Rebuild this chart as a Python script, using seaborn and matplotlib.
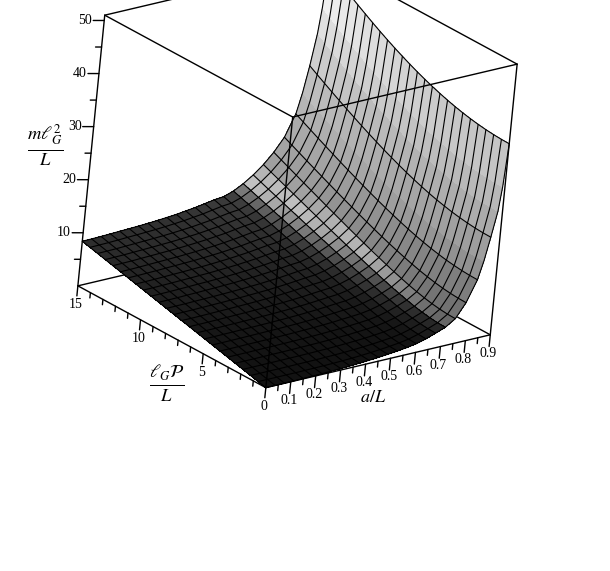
import numpy as np
import seaborn as sns
from matplotlib import pyplot as plt
from mpl_toolkits.mplot3d import proj3d

# a/L values of the mesh lines, and of three rows between them where the sheet bends hard
a_mesh = [round(0.0375 * i, 4) for i in range(25)]
a_extra = [0.84375, 0.88125, 0.890625]
a_grid = sorted(a_mesh + a_extra)
lp_grid = [0.625 * i for i in range(25)]

# surface heights, one row per value of a_grid
z_rows = [
    [0,.35,.7,1.05,1.4,1.75,2.1,2.45,2.8,3.15,3.5,3.85,4.2,4.55,4.9,5.25,5.6,5.95,6.3,6.65,7.0,7.35,7.7,8.05,8.4],
    [0,.35,.7,1.05,1.41,1.76,2.11,2.46,2.81,3.16,3.51,3.86,4.22,4.57,4.92,5.27,5.62,5.97,6.32,6.67,7.03,7.38,7.73,8.08,8.43],
    [.01,.35,.71,1.06,1.41,1.77,2.12,2.47,2.83,3.18,3.53,3.88,4.24,4.59,4.94,5.3,5.65,6.0,6.36,6.71,7.06,7.42,7.77,8.12,8.48],
    [.03,.36,.71,1.07,1.43,1.78,2.14,2.49,2.85,3.21,3.56,3.92,4.28,4.63,4.99,5.34,5.7,6.06,6.41,6.77,7.13,7.48,7.84,8.19,8.55],
    [.06,.36,.72,1.08,1.44,1.8,2.16,2.52,2.88,3.23,3.59,3.95,4.31,4.67,5.03,5.39,5.75,6.11,6.47,6.83,7.19,7.55,7.91,8.27,8.63],
    [.1,.38,.73,1.09,1.45,1.81,2.18,2.54,2.9,3.26,3.63,3.99,4.35,4.71,5.08,5.44,5.8,6.16,6.53,6.89,7.25,7.61,7.98,8.34,8.7],
    [.15,.4,.75,1.11,1.47,1.84,2.2,2.57,2.93,3.3,3.66,4.03,4.39,4.76,5.13,5.49,5.86,6.22,6.59,6.95,7.32,7.69,8.05,8.42,8.78],
    [.21,.43,.77,1.13,1.5,1.86,2.23,2.6,2.97,3.34,3.71,4.08,4.45,4.82,5.19,5.55,5.92,6.29,6.66,7.03,7.4,7.77,8.14,8.51,8.88],
    [.28,.47,.8,1.16,1.53,1.9,2.27,2.64,3.01,3.39,3.76,4.13,4.51,4.88,5.26,5.63,6.01,6.38,6.76,7.13,7.5,7.88,8.25,8.63,9.0],
    [.37,.53,.85,1.2,1.57,1.94,2.32,2.69,3.07,3.45,3.83,4.21,4.59,4.97,5.35,5.73,6.11,6.49,6.87,7.25,7.63,8.01,8.39,8.77,9.15],
    [.47,.61,.9,1.26,1.62,2.0,2.38,2.75,3.13,3.52,3.9,4.29,4.67,5.06,5.45,5.83,6.22,6.61,6.99,7.38,7.77,8.15,8.54,8.93,9.31],
    [.59,.71,.99,1.34,1.7,2.07,2.46,2.84,3.23,3.62,4.01,4.41,4.8,5.2,5.59,5.98,6.38,6.77,7.17,7.56,7.96,8.36,8.75,9.15,9.55],
    [.73,.84,1.1,1.43,1.77,2.15,2.54,2.94,3.33,3.73,4.12,4.54,4.93,5.33,5.73,6.14,6.54,6.94,7.35,7.76,8.15,8.56,8.96,9.37,9.78],
    [.9,.99,1.23,1.53,1.9,2.27,2.68,3.07,3.47,3.88,4.29,4.7,5.11,5.52,5.93,6.34,6.76,7.18,7.6,8.01,8.43,8.85,9.26,9.68,10.09],
    [1.1,1.18,1.41,1.69,2.02,2.4,2.8,3.21,3.62,4.03,4.45,4.87,5.29,5.71,6.14,6.56,6.99,7.41,7.84,8.26,8.69,9.12,9.55,9.98,10.4],
    [1.33,1.4,1.59,1.87,2.2,2.56,2.94,3.34,3.74,4.16,4.57,4.99,5.42,5.84,6.27,6.7,7.13,7.56,7.99,8.42,8.85,9.28,9.72,10.15,10.58],
    [1.65,1.71,1.89,2.16,2.48,2.84,3.23,3.64,4.05,4.48,4.91,5.35,5.79,6.23,6.69,7.13,7.58,8.03,8.49,8.94,9.4,9.85,10.31,10.77,11.22],
    [2.15,2.21,2.38,2.62,2.94,3.3,3.69,4.11,4.54,4.99,5.44,5.91,6.37,6.85,7.32,7.8,8.28,8.77,9.25,9.74,10.23,10.72,11.21,11.7,12.19],
    [2.8,2.85,3.0,3.25,3.55,3.91,4.31,4.74,5.2,5.66,6.15,6.64,7.13,7.64,8.16,8.66,9.19,9.71,10.24,10.76,11.29,11.83,12.35,12.89,13.43],
    [3.5,3.55,3.7,3.94,4.26,4.63,5.05,5.5,5.98,6.49,7.0,7.53,8.08,8.62,9.18,9.74,10.31,10.89,11.46,12.04,12.62,13.2,13.79,14.37,14.96],
    [4.7,4.75,4.89,5.12,5.42,5.79,6.2,6.67,7.16,7.68,8.23,8.79,9.36,9.96,10.55,11.17,11.78,12.4,13.03,13.66,14.29,14.94,15.58,16.22,16.87],
    [7.3,7.34,7.45,7.63,7.88,8.19,8.55,8.97,9.42,9.91,10.42,10.96,11.53,12.12,12.72,13.34,13.96,14.6,15.25,15.91,16.57,17.24,17.92,18.6,19.29],
    [11.2,11.23,11.33,11.49,11.7,11.98,12.31,12.68,13.1,13.56,14.06,14.59,15.15,15.73,16.34,16.97,17.62,18.28,18.96,19.65,20.36,21.07,21.8,22.53,23.27],
    [14.5,14.53,14.62,14.78,14.99,15.26,15.58,15.95,16.37,16.83,17.33,17.87,18.44,19.05,19.68,20.33,21.01,21.7,22.42,23.15,23.9,24.66,25.44,26.22,27.02],
    [18.8,18.83,18.92,19.08,19.29,19.55,19.88,20.25,20.67,21.15,21.66,22.21,22.8,23.43,24.08,24.77,25.48,26.22,26.98,27.76,28.56,29.38,30.21,31.06,31.92],
    [23.5,23.53,23.63,23.79,24.02,24.3,24.65,25.04,25.5,26.01,26.56,27.16,27.8,28.48,29.2,29.95,30.73,31.54,32.38,33.24,34.13,35.04,35.97,36.91,37.87],
    [28,28.03,28.13,28.29,28.51,28.79,29.13,29.52,29.97,30.48,31.03,31.63,32.27,32.96,33.69,34.44,35.24,36.07,36.93,37.81,38.73,39.66,40.62,41.6,42.6],
    [36,36.03,36.12,36.26,36.46,36.72,37.03,37.39,37.81,38.28,38.79,39.35,39.95,40.6,41.29,42.01,42.77,43.57,44.4,45.27,46.15,47.07,48.01,48.98,49.97],
]

a_ticks = [round(0.05 * i, 2) for i in range(1, 19)]
lp_ticks = list(range(16))
z_ticks = list(range(5, 51, 5))

A_MAX, LP_MAX, Z_MAX = 0.9, 15, 51

sns.set_style("white")
plt.rcParams['font.family'] = ['Liberation Serif', 'DejaVu Serif']
plt.rcParams['mathtext.fontset'] = 'stix'
plt.rcParams['text.color'] = 'black'

fig = plt.figure(figsize=(6.1, 5.71), dpi=100)
ax = fig.add_axes([40.75 / 610, 139.25 / 571, 500 / 610, 500 / 571], projection='3d', proj_type='ortho')
ax.set_box_aspect((1, 1, 1), zoom=0.9886)
ax.view_init(elev=22.3, azim=-132.1, roll=-5.67)
ax.set_xlim(0, A_MAX)
ax.set_ylim(0, LP_MAX)
ax.set_zlim(0, Z_MAX)
ax.set_axis_off()
ax.computed_zorder = False

X, Y = np.meshgrid(a_grid, lp_grid, indexing='ij')
Z = np.array(z_rows)

# grey from height and slope, plus a soft highlight where the slope catches the light
dz_da, dz_dl = np.gradient(Z, a_grid, lp_grid)
slope = np.hypot(dz_da * A_MAX / Z_MAX, dz_dl * LP_MAX / Z_MAX)
grey = (0.07 + 0.16 * (1 - np.exp(-(Z / 10) ** 2)) + 0.33 * (1 - np.exp(-(slope / 0.55) ** 4))
        + 0.5 * (Z / 50) ** 1.5 + 0.3 * np.exp(-((slope - 0.55) / 0.15) ** 2))
cmap = sns.color_palette("gray", as_cmap=True)
ax.plot_surface(X, Y, Z, rstride=1, cstride=1, facecolors=cmap(np.clip(grey, 0, 1)),
                shade=False, linewidth=0, antialiased=False, zorder=2)

# mesh lines only on the a_mesh rows, the extra rows just bend the lP lines
for i, value in enumerate(a_grid):
    if value in a_mesh:
        ax.plot(X[i], Y[i], Z[i], color='black', lw=0.8, zorder=2.5)
for j in range(len(lp_grid)):
    ax.plot(X[:, j], Y[:, j], Z[:, j], color='black', lw=0.8, zorder=2.5)


def box_line(start, end, zorder):
    ax.plot(*zip(start, end), color='black', lw=1, zorder=zorder)


def tick_label(x, y, z, label):
    px, py, _ = proj3d.proj_transform(x, y, z, ax.get_proj())
    ax.text2D(px, py, label, transform=ax.transData, ha='center', va='center', fontsize=10, zorder=4)


back_edges = [((0, LP_MAX, 0), (A_MAX, LP_MAX, 0)), ((A_MAX, 0, 0), (A_MAX, LP_MAX, 0)),
              ((A_MAX, LP_MAX, 0), (A_MAX, LP_MAX, Z_MAX)), ((0, LP_MAX, Z_MAX), (A_MAX, LP_MAX, Z_MAX)),
              ((A_MAX, 0, Z_MAX), (A_MAX, LP_MAX, Z_MAX))]
front_edges = [((0, 0, 0), (A_MAX, 0, 0)), ((0, 0, 0), (0, LP_MAX, 0)),
               ((0, 0, 0), (0, 0, Z_MAX)), ((A_MAX, 0, 0), (A_MAX, 0, Z_MAX)),
               ((0, LP_MAX, 0), (0, LP_MAX, Z_MAX)), ((0, 0, Z_MAX), (A_MAX, 0, Z_MAX)),
               ((0, 0, Z_MAX), (0, LP_MAX, Z_MAX))]
for start, end in back_edges:
    box_line(start, end, 1)
for start, end in front_edges:
    box_line(start, end, 3)

for value in a_ticks:
    length = 2.2 if round(value * 10, 4) == round(value * 10) else 1.1
    ax.plot([value, value], [0, 0], [0, -length], color='black', lw=1, zorder=3)
    if length > 2:
        tick_label(value, 0, -3.5, f'{value:.1f}')
for value in lp_ticks:
    length = 1.9 if value % 5 == 0 else 1.0
    ax.plot([0, 0], [value, value], [0, -length], color='black', lw=1, zorder=3)
    if value % 5 == 0:
        tick_label(0, value, -3.5, str(value))
for value in z_ticks:
    size = 1.0 if value % 10 == 0 else 0.55
    ax.plot([0, -0.0306 * size], [LP_MAX, LP_MAX + 0.268 * size], [value, value], color='black', lw=1, zorder=3)
    if value % 10 == 0:
        tick_label(-0.053, LP_MAX + 0.46, value, str(value))

fig.text(45 / 610, 1 - 146 / 571, r'$\frac{m\ell_G^{2}}{L}$', ha='center', va='center', fontsize=19)
fig.text(167 / 610, 1 - 384 / 571, r'$\frac{\ell_G\mathcal{P}}{L}$', ha='center', va='center', fontsize=19)
fig.text(373 / 610, 1 - 397 / 571, r'$a/L$', ha='center', va='center', fontsize=13)

fig.savefig('out.png', dpi=100)
